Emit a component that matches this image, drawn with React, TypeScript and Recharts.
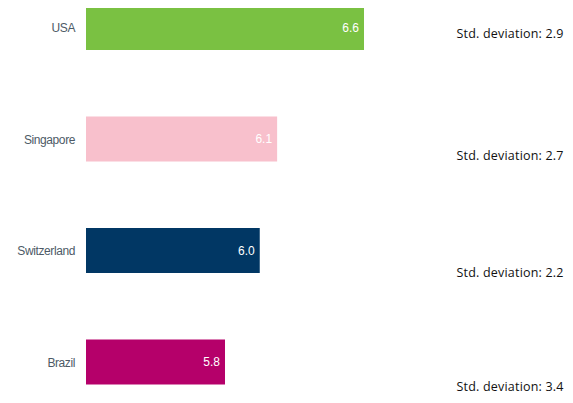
import { BarChart, Bar, XAxis, YAxis, Cell, LabelList } from "recharts";

const countries = ["USA", "Singapore", "Switzerland", "Brazil"];
const scores = [6.6, 6.1, 6.0, 5.8];
const stdDevs = [2.9, 2.7, 2.2, 3.4];
const colors = ["#7ac142", "#f8c0cc", "#013764", "#b5006a"];

// the std. deviation notes sit a bit below each bar, not evenly
const noteShift = [6, 16, 22, 24];

const chartData = countries.map((name, i) => ({
    name,
    score: scores[i],
    std: stdDevs[i],
}));

function NoteTick(props: any) {
    const { x, y, index } = props;
    return (
        <text
            x={x + 15}
            y={y + noteShift[index]}
            dy="0.35em"
            textAnchor="start"
            fontFamily="'Open Sans', sans-serif"
            fontSize={12.5}
            letterSpacing={0.2}
            fill="#111"
        >
            {`Std. deviation: ${stdDevs[index].toFixed(1)}`}
        </text>
    );
}

export default function App() {
    return (
        <div style={{ marginTop: -36 }}>
            <BarChart
                width={565}
                height={446}
                data={chartData}
                layout="vertical"
                margin={{ top: 0, right: 0, bottom: 0, left: 0 }}
                barSize={45}
            >
                <XAxis type="number" domain={[5, 7]} hide />
                <YAxis
                    yAxisId="left"
                    type="category"
                    dataKey="name"
                    width={78}
                    axisLine={false}
                    tickLine={false}
                    tickMargin={5}
                    tick={{ fill: "#4d5a66", fontSize: 12, fontFamily: "'Liberation Sans', Arial, sans-serif", letterSpacing: -0.4 }}
                />
                <YAxis
                    yAxisId="right"
                    orientation="right"
                    type="category"
                    dataKey="name"
                    width={139.5}
                    axisLine={false}
                    tickLine={false}
                    tick={<NoteTick />}
                />
                <Bar yAxisId="left" dataKey="score" isAnimationActive={false}>
                    {chartData.map((d, i) => (
                        <Cell key={d.name} fill={colors[i]} />
                    ))}
                    <LabelList
                        dataKey="score"
                        position="insideRight"
                        offset={5}
                        fill="#ffffff"
                        fontSize={12}
                        fontFamily="'Liberation Sans', Arial, sans-serif"
                        formatter={(v: any) => Number(v).toFixed(1)}
                    />
                </Bar>
            </BarChart>
        </div>
    );
}
